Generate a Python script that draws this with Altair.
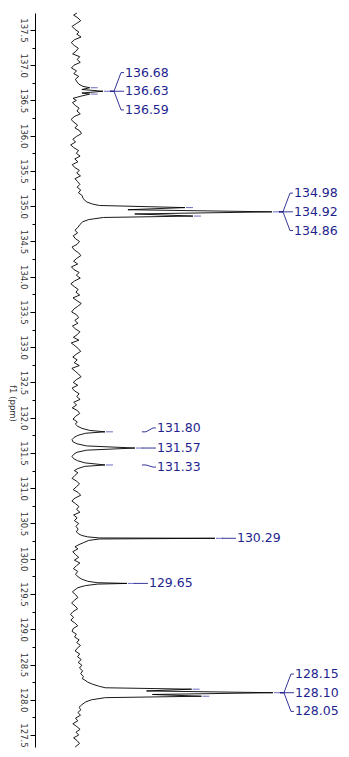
import altair as alt
import pandas as pd

# ---------------- data ----------------
# (chemical shift in ppm, intensity; largest peak = 100)
seg_a = [(137.74, 0.5), (137.71, -1.2), (137.67, 1.0), (137.63, 2.4), (137.59, 0.2),
         (137.55, -2.0), (137.51, -0.6), (137.47, 1.5), (137.44, 0.4), (137.40, 2.6),
         (137.36, -0.8), (137.32, -2.4), (137.28, -0.9), (137.24, 1.2), (137.20, 0.1),
         (137.16, -1.7), (137.12, 1.9), (137.08, 0.6), (137.04, 2.2), (137.00, -1.0),
         (136.96, -2.3), (136.92, 0.3), (136.88, -1.1), (136.84, 1.4), (136.80, -0.3),
         (136.76, 0.6)]
mult_1366 = [(136.73, 1.5), (136.70, 3.5), (136.68, 7.0), (136.655, 3.0), (136.63, 13.8),
             (136.605, 3.0), (136.59, 7.0), (136.56, 2.5), (136.53, -1.5), (136.50, 0.2)]
seg_b = [(136.47, -1.8), (136.43, -0.4), (136.39, 1.6), (136.35, 0.5), (136.31, 2.2),
         (136.27, -0.9), (136.23, -2.5), (136.19, -1.0), (136.15, 0.8), (136.11, -0.5),
         (136.07, 1.9), (136.03, 2.8), (135.99, 0.3), (135.95, -1.6), (135.91, -0.2),
         (135.87, -2.7), (135.83, -1.1), (135.79, 1.3), (135.75, 0.2), (135.71, 2.1),
         (135.67, -0.6), (135.63, 1.0), (135.59, -1.9), (135.55, -0.7), (135.51, 1.7),
         (135.47, 0.4), (135.43, 2.3), (135.39, -0.5), (135.35, 0.8), (135.31, 2.0),
         (135.27, 0.6), (135.23, 2.4), (135.19, 1.3), (135.15, 3.2), (135.11, 3.6)]
mult_1349 = [(135.06, 5.5), (135.03, 8.5), (135.01, 12.0), (134.98, 55.6), (134.95, 26.5),
             (134.92, 100.0), (134.89, 30.0), (134.86, 59.7), (134.84, 14.0), (134.81, 6.5),
             (134.78, 3.5), (134.74, 2.0), (134.70, 1.0), (134.66, -0.5)]
seg_c = [(134.62, 0.8), (134.58, -1.4), (134.54, -0.3), (134.50, 1.8), (134.46, 0.6),
         (134.42, -2.0), (134.38, -0.8), (134.34, 1.3), (134.30, 2.5), (134.26, 0.4),
         (134.22, -1.2), (134.18, 0.9), (134.14, -2.3), (134.10, -1.0), (134.06, 1.6),
         (134.02, 0.2), (133.98, 2.2), (133.94, -0.7), (133.90, -2.6), (133.86, -0.9),
         (133.82, 1.1), (133.78, 0.0), (133.74, 1.9), (133.70, -1.5), (133.66, 0.5),
         (133.62, 2.7), (133.58, 0.9), (133.54, -1.1), (133.50, -2.2), (133.46, 0.3),
         (133.42, 1.4), (133.38, -0.6), (133.34, 1.0), (133.30, -1.8), (133.26, -0.3),
         (133.22, 2.0), (133.18, 0.7), (133.14, -1.3), (133.10, 1.5), (133.06, -2.4),
         (133.02, -0.5), (132.98, 1.2), (132.94, 2.4), (132.90, 0.1), (132.86, -1.6),
         (132.82, 0.6), (132.78, -0.9), (132.74, 1.7), (132.70, -2.1), (132.66, -0.4),
         (132.62, 1.3), (132.58, 2.6), (132.54, 0.2), (132.50, -1.4), (132.46, 0.9),
         (132.42, -2.0), (132.38, -0.7), (132.34, 1.6), (132.30, 0.4), (132.26, 2.1),
         (132.22, -1.1), (132.18, 0.3), (132.14, -1.9), (132.10, 0.8), (132.06, 1.9),
         (132.02, -0.2), (131.98, -1.5), (131.94, 0.7), (131.91, -0.3)]
mult_1316 = [(131.88, 0.8), (131.85, 3.0), (131.82, 7.0), (131.80, 14.8), (131.78, 5.0),
             (131.75, 1.0), (131.72, -1.0), (131.69, -2.0), (131.66, -1.6), (131.63, 0.5),
             (131.60, 5.5), (131.57, 30.1), (131.54, 5.5), (131.51, 0.5), (131.48, -1.2),
             (131.45, -2.0), (131.42, -1.2), (131.39, 0.8), (131.36, 4.5), (131.33, 14.8),
             (131.31, 4.5), (131.28, 1.0), (131.25, -0.8)]
seg_d = [(131.22, 1.0), (131.18, -0.6), (131.14, -2.0), (131.10, 0.4), (131.06, 1.8),
         (131.02, 0.2), (130.98, -1.4), (130.94, 1.1), (130.90, 2.4), (130.86, -0.5),
         (130.82, -2.1), (130.78, -0.2), (130.74, 1.5), (130.70, 0.3), (130.66, 2.0),
         (130.62, -1.2), (130.58, 0.6), (130.54, -0.8), (130.50, 1.4), (130.46, 0.0),
         (130.42, 1.1), (130.38, 0.2)]
peak_1303 = [(130.35, 1.5), (130.33, 3.0), (130.31, 6.0), (130.295, 12.0), (130.29, 70.9),
             (130.28, 12.0), (130.26, 6.5), (130.23, 4.0), (130.20, 1.5), (130.17, -0.5)]
seg_e = [(130.14, 1.0), (130.10, -1.6), (130.06, -0.3), (130.02, 1.4), (129.98, -0.8),
         (129.94, 2.0), (129.90, 0.2), (129.86, -1.3), (129.82, 0.9), (129.78, -0.2),
         (129.74, 1.2)]
peak_1297 = [(129.71, 3.0), (129.68, 6.0), (129.66, 11.0), (129.65, 26.0), (129.64, 11.0),
             (129.62, 5.0), (129.59, 1.0), (129.56, -0.5)]
seg_f = [(129.53, -1.8), (129.49, -0.2), (129.45, 1.0), (129.41, -0.9), (129.37, -2.2),
         (129.33, -0.4), (129.29, 0.8), (129.25, -1.5), (129.21, -2.8), (129.17, -1.2),
         (129.13, -2.6), (129.09, -0.6), (129.05, 0.9), (129.01, -1.4), (128.97, -2.0),
         (128.93, 0.2), (128.89, -0.7), (128.85, 1.6), (128.81, 0.4), (128.77, 2.3),
         (128.73, 0.6), (128.69, -0.4), (128.65, 1.9), (128.61, 0.8), (128.57, 2.7),
         (128.53, 1.1), (128.49, 3.0), (128.45, 1.8), (128.41, 3.4), (128.37, 2.4),
         (128.33, 3.8), (128.30, 3.2)]
mult_1281 = [(128.28, 4.5), (128.25, 6.0), (128.22, 8.5), (128.19, 12.0), (128.17, 15.0),
             (128.15, 59.0), (128.125, 36.0), (128.10, 100.5), (128.075, 39.0), (128.05, 64.0),
             (128.03, 15.0), (128.00, 8.0), (127.97, 5.0), (127.93, 3.0), (127.89, 1.5)]
seg_g = [(127.86, 2.6), (127.82, 1.0), (127.78, 2.3), (127.74, -0.2), (127.70, 0.9),
         (127.66, -1.6), (127.62, 0.4), (127.58, 2.1), (127.54, 0.0), (127.50, 1.4),
         (127.46, -1.2), (127.42, 0.6), (127.38, 1.8), (127.33, -0.4)]

# peak annotations
peak_labels = ["136.68", "136.63", "136.59", "134.98", "134.92", "134.86",
               "131.80", "131.57", "131.33", "130.29", "129.65",
               "128.15", "128.10", "128.05"]
peak_groups = [0, 0, 0, 1, 1, 1, 2, 2, 2, 3, 4, 5, 5, 5]

# axis ticks (ppm)
tick_major = [137.5, 137.0, 136.5, 136.0, 135.5, 135.0, 134.5, 134.0, 133.5, 133.0,
              132.5, 132.0, 131.5, 131.0, 130.5, 130.0, 129.5, 129.0, 128.5, 128.0, 127.5]
tick_minor = [137.25, 136.75, 136.25, 135.75, 135.25, 134.75, 134.25, 133.75, 133.25,
              132.75, 132.25, 131.75, 131.25, 130.75, 130.25, 129.75, 129.25, 128.75,
              128.25, 127.75]

# ---------------- layout / style ----------------
PLOT_W, PLOT_H = 305, 734
X_DOMAIN = [-20.9, 134.7]
Y_DOMAIN = [127.33, 137.74]
U = (X_DOMAIN[1] - X_DOMAIN[0]) / PLOT_W   # intensity units per pixel
LABEL_COLOR = "#1f1f8f"
STUB_COLOR = "#6c6cc0"
FONT = "DejaVu Sans"
LABEL_DX = 22

segments = [seg_a, mult_1366, seg_b, mult_1349, seg_c, mult_1316, seg_d, peak_1303,
            seg_e, peak_1297, seg_f, mult_1281, seg_g]
trace = [p for s in segments for p in s]
spec = pd.DataFrame(trace, columns=["ppm", "intensity"])
spec["i"] = range(len(spec))
height_at = dict(trace)

# label placement (multiplets fan out around their centre line)
multiplet_groups = {0, 1, 5}
fan = 0.265
small_shift = {"131.80": 0.055, "131.57": 0.0, "131.33": -0.03}

rows_stub, rows_conn, rows_text = [], [], []
groups = {}
for lab, g in zip(peak_labels, peak_groups):
    groups.setdefault(g, []).append(lab)
for g, labs in groups.items():
    T = max(height_at[float(l)] for l in labs)
    centre = float(labs[len(labs) // 2])
    for k, lab in enumerate(labs):
        p = float(lab)
        h = height_at[p]
        rows_stub.append({"ppm": p, "x": h + 1 * U, "x2": h + 8 * U})
        if g in multiplet_groups:
            anchor = centre
            lp = centre + fan * (len(labs) // 2 - k)
        else:
            anchor = p
            lp = p + small_shift.get(lab, 0.0)
        pts = [(7, anchor), (11, anchor), (LABEL_DX - 4, lp), (LABEL_DX - 1, lp)]
        for j, (dxp, yy) in enumerate(pts):
            rows_conn.append({"lab": lab, "j": j, "x": T + dxp * U, "ppm": yy})
        rows_text.append({"lab": lab, "x": T, "ppm": lp})

stub_df = pd.DataFrame(rows_stub)
conn_df = pd.DataFrame(rows_conn)
text_df = pd.DataFrame(rows_text)

xs = alt.Scale(domain=X_DOMAIN, nice=False, zero=False)
ys = alt.Scale(domain=Y_DOMAIN, nice=False, zero=False)

y_axis = alt.Axis(
    values=sorted(tick_major + tick_minor),
    labelExpr="datum.value % 0.5 == 0 ? format(datum.value, '.1f') : ''",
    labelAngle=90, labelAlign="center", labelBaseline="top",
    labelFont=FONT, labelFontSize=8.5, labelColor="#333333", labelPadding=3,
    tickSize={"condition": {"test": "datum.value % 0.5 == 0", "value": 5}, "value": 3},
    tickColor="black", domainColor="black", tickWidth=1, domainWidth=1,
    grid=False, labelOverlap=False,
    title="f1 (ppm)", titleAngle=90, titleFont=FONT, titleFontSize=8.5,
    titleFontWeight="normal", titleColor="#333333", titleAlign="center",
    titleBaseline="top", titleX=-19, titleY=390,
)

line = alt.Chart(spec).mark_line(color="black", strokeWidth=0.9).encode(
    x=alt.X("intensity:Q", scale=xs, axis=None),
    y=alt.Y("ppm:Q", scale=ys, axis=y_axis),
    order=alt.Order("i:Q"),
)

stubs = alt.Chart(stub_df).mark_rule(color=STUB_COLOR, strokeWidth=1).encode(
    x=alt.X("x:Q", scale=xs, axis=None),
    x2="x2:Q",
    y=alt.Y("ppm:Q", scale=ys, axis=y_axis),
)

conns = alt.Chart(conn_df).mark_line(color=LABEL_COLOR, strokeWidth=0.9).encode(
    x=alt.X("x:Q", scale=xs, axis=None),
    y=alt.Y("ppm:Q", scale=ys, axis=y_axis),
    detail="lab:N",
    order=alt.Order("j:Q"),
)

texts = alt.Chart(text_df).mark_text(
    align="left", baseline="middle", dx=LABEL_DX, font=FONT, fontSize=12.5,
    color=LABEL_COLOR
).encode(
    x=alt.X("x:Q", scale=xs, axis=None),
    y=alt.Y("ppm:Q", scale=ys, axis=y_axis),
    text="lab:N",
)

chart = alt.layer(line, stubs, conns, texts).properties(
    width=PLOT_W, height=PLOT_H,
    autosize=alt.AutoSizeParams(type="none"),
    padding={"left": 27, "top": 5, "right": 1, "bottom": 5},
).configure_view(stroke=None)

chart.save("out.html", embed_options={"renderer": "svg", "actions": False})
